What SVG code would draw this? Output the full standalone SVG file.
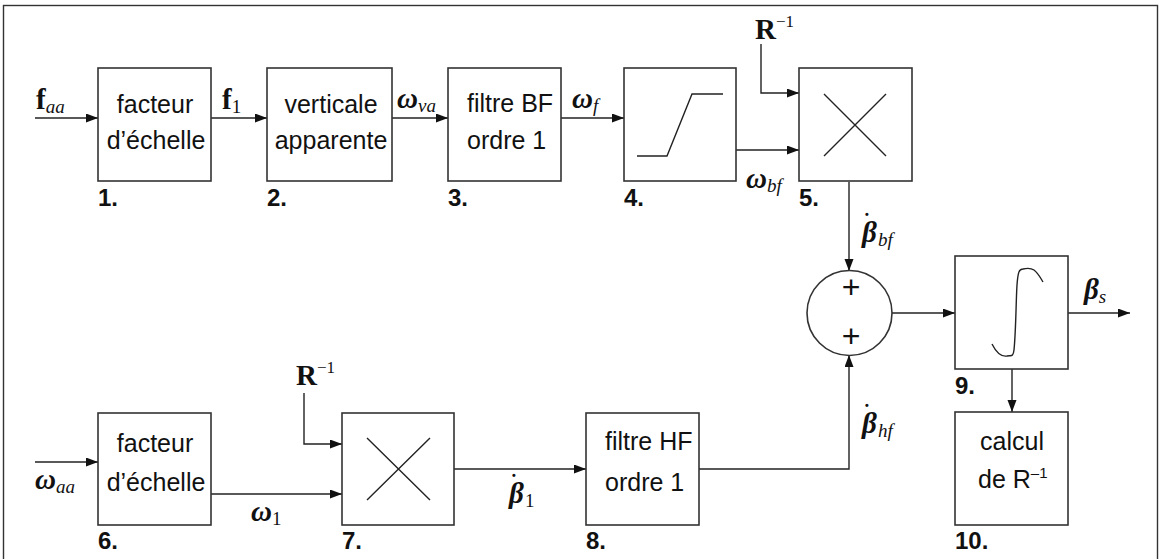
<svg xmlns="http://www.w3.org/2000/svg" width="1161" height="559" viewBox="0 0 1161 559">
<style>
.frame{fill:none;stroke:#333;stroke-width:1.4}
.box{fill:#fff;stroke:#333;stroke-width:1.6}
.ln{fill:none;stroke:#222;stroke-width:1.4}
.con{fill:none;stroke:#222;stroke-width:1.4;marker-end:url(#ah)}
.t{font-family:"Liberation Sans",Arial,sans-serif;font-size:25px;fill:#111}
.plus{font-family:"Liberation Sans",Arial,sans-serif;font-size:32px;fill:#111}
.num{font-family:"Liberation Sans",Arial,sans-serif;font-size:24px;font-weight:bold;fill:#111}
.m{font-family:"Liberation Serif","DejaVu Serif",serif;font-size:29px;fill:#111}
.b{font-weight:bold}
.bi{font-weight:bold;font-style:italic}
.i{font-style:italic}
.sub{font-size:19px}
.sup{font-size:17px}
</style>
<defs>
<marker id="ah" markerUnits="userSpaceOnUse" markerWidth="13" markerHeight="10" refX="12" refY="4.5" orient="auto">
<path d="M0,0 L12,4.5 L0,9 z" fill="#111"/>
</marker>
</defs>
<rect class="frame" x="3.5" y="5.5" width="1154" height="600"/>

<g id="connectors">
<path class="con" d="M35,118 H98"/>
<path class="con" d="M211,118 H267"/>
<path class="con" d="M392,118 H448"/>
<path class="con" d="M561,118 H624"/>
<path class="con" d="M736,150 H799"/>
<path class="con" d="M761,44 V93 H799"/>
<path class="con" d="M849,182 V271"/>
<path class="con" d="M892,313 H955"/>
<path class="con" d="M1068,313 H1130"/>
<path class="con" d="M1012,369 V412"/>
<path class="con" d="M35,462 H98"/>
<path class="con" d="M211,494 H342"/>
<path class="con" d="M304,393 V444 H342"/>
<path class="con" d="M454,469 H586"/>
<path class="con" d="M699,469 H849 V355"/>
</g>

<g id="node1">
<rect class="box" x="98" y="68" width="113" height="113"/>
<text class="t" x="155" y="113" text-anchor="middle">facteur</text>
<text class="t" x="156" y="149" text-anchor="middle">d’échelle</text>
<text class="num" x="98" y="206">1.</text>
</g>
<g id="node2">
<rect class="box" x="267" y="68" width="125" height="113"/>
<text class="t" x="331" y="113" text-anchor="middle">verticale</text>
<text class="t" x="331" y="149" text-anchor="middle">apparente</text>
<text class="num" x="267" y="206">2.</text>
</g>
<g id="node3">
<rect class="box" x="448" y="68" width="113" height="113"/>
<text class="t" x="467" y="112">filtre BF</text>
<text class="t" x="467" y="149">ordre 1</text>
<text class="num" x="448" y="206">3.</text>
</g>
<g id="node4">
<rect class="box" x="624" y="68" width="112" height="113"/>
<path class="ln" d="M637,156 H667 L692,94 H723"/>
<text class="num" x="624" y="206">4.</text>
</g>
<g id="node5">
<rect class="box" x="799" y="68" width="113" height="113"/>
<path class="ln" d="M824,94 L886,156 M824,156 L886,94"/>
<text class="num" x="799" y="206">5.</text>
</g>
<g id="sum">
<circle class="box" cx="849.5" cy="313" r="42.5"/>
<text class="plus" x="851" y="298" text-anchor="middle">+</text>
<text class="plus" x="851" y="347" text-anchor="middle">+</text>
</g>
<g id="node9">
<rect class="box" x="955" y="256" width="113" height="113"/>
<path class="ln" d="M992,344 C996,352 1001,357 1007,356 C1011,355 1013,358 1014,350 C1016,330 1016,300 1017,285 C1018,272 1019,269 1023,269 C1027,268 1031,268 1034,270 C1038,273 1040,277 1043,282"/>
<text class="num" x="955" y="394">9.</text>
</g>
<g id="node10">
<rect class="box" x="955" y="412" width="113" height="113"/>
<text class="t" x="1012" y="450" text-anchor="middle">calcul</text>
<text class="t" x="978" y="488">de R<tspan font-size="15" dy="-10">–1</tspan></text>
<text class="num" x="955" y="549">10.</text>
</g>
<g id="node6">
<rect class="box" x="98" y="413" width="113" height="112"/>
<text class="t" x="155" y="452" text-anchor="middle">facteur</text>
<text class="t" x="156" y="491" text-anchor="middle">d’échelle</text>
<text class="num" x="98" y="549">6.</text>
</g>
<g id="node7">
<rect class="box" x="342" y="413" width="112" height="112"/>
<path class="ln" d="M367,438 L430,500 M367,500 L430,438"/>
<text class="num" x="342" y="549">7.</text>
</g>
<g id="node8">
<rect class="box" x="586" y="413" width="113" height="112"/>
<text class="t" x="605" y="450">filtre HF</text>
<text class="t" x="605" y="491">ordre 1</text>
<text class="num" x="586" y="549">8.</text>
</g>

<g id="labels">
<text class="m" x="36" y="109"><tspan class="b">f</tspan><tspan class="i sub" dy="4">aa</tspan></text>
<text class="m" x="222" y="109"><tspan class="b">f</tspan><tspan class="sub" dy="4">1</tspan></text>
<text class="m" x="397" y="108"><tspan class="bi">ω</tspan><tspan class="i sub" dy="4">va</tspan></text>
<text class="m" x="572" y="108"><tspan class="bi">ω</tspan><tspan class="i sub" dy="4">f</tspan></text>
<text class="m" x="746" y="188"><tspan class="bi">ω</tspan><tspan class="i sub" dy="4">bf</tspan></text>
<text class="m" x="755" y="39"><tspan class="b">R</tspan><tspan class="sup" dy="-12">−1</tspan></text>
<text class="m" x="862" y="242"><tspan class="bi">β</tspan><tspan x="862" dy="-9">˙</tspan><tspan class="i sub" x="878" dy="13">bf</tspan></text>
<text class="m" x="1084" y="299"><tspan class="bi">β</tspan><tspan class="i sub" dy="4">s</tspan></text>
<text class="m" x="862" y="433"><tspan class="bi">β</tspan><tspan x="862" dy="-9">˙</tspan><tspan class="i sub" x="878" dy="13">hf</tspan></text>
<text class="m" x="35" y="489"><tspan class="bi">ω</tspan><tspan class="i sub" dy="4">aa</tspan></text>
<text class="m" x="251" y="521"><tspan class="bi">ω</tspan><tspan class="sub" dy="4">1</tspan></text>
<text class="m" x="296" y="385"><tspan class="b">R</tspan><tspan class="sup" dy="-12">−1</tspan></text>
<text class="m" x="509" y="503"><tspan class="bi">β</tspan><tspan x="509" dy="-9">˙</tspan><tspan class="sub" x="525" dy="13">1</tspan></text>
</g>
</svg>
